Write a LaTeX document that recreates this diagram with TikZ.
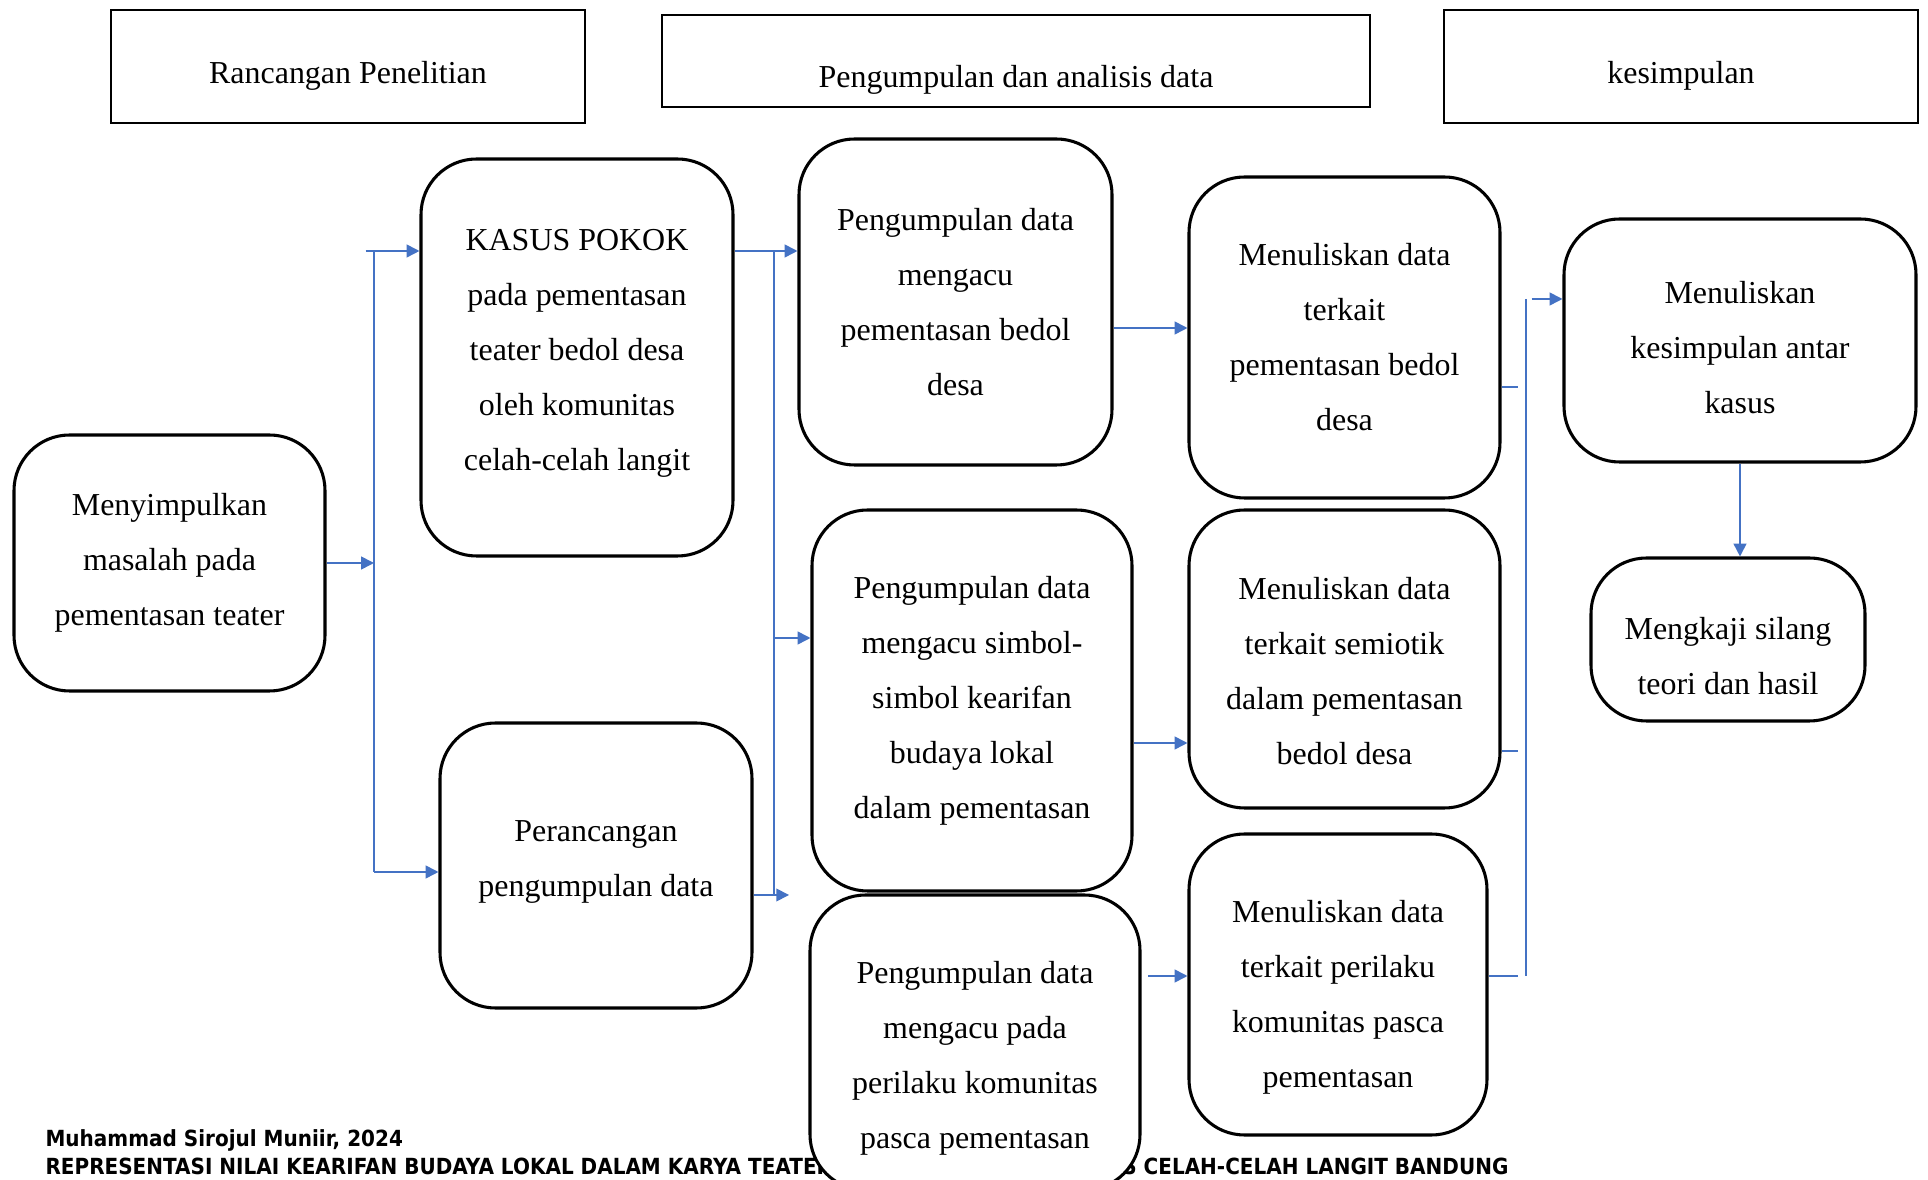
\documentclass[tikz,border=0pt]{standalone}
\usepackage{fontspec}
\setmainfont{Liberation Serif}
\newfontfamily\footfont[FakeStretch=0.9]{DejaVu Sans}
\usepackage{xcolor}
\usepackage{tikz}
\usetikzlibrary{arrows.meta}
\definecolor{alurbiru}{HTML}{4472C4}
\newcommand{\pxu}{0.36pt}
\newcommand{\atas}[1]{\rule{0pt}{#1}}
\newcommand{\bawah}[1]{\rule[-#1]{0pt}{0pt}}

\begin{document}
\begin{tikzpicture}[x=0.36pt, y=-0.36pt,
    rbox/.style={draw, line width=1.1pt, rounded corners=20pt, fill=white, align=center, inner sep=0pt,
      font=\fontsize{11.5}{19.8}\selectfont},
    hbox/.style={draw, line width=0.9pt, align=center, inner sep=0pt, font=\fontsize{11.5}{19.8}\selectfont},
    link/.style={alurbiru, line width=0.6pt},
    arr/.style={link, -{Triangle[length=4.6pt, width=4.6pt]}},
    foot/.style={inner sep=0pt, font=\footfont\bfseries\fontsize{8}{9}\selectfont}]
  \useasboundingbox (0,0) rectangle (1928,1180);

  \node[foot, anchor=base west] (pengarang) at (45,1146) {Muhammad Sirojul Muniir, 2024};
  \node[foot, anchor=base west] (judulkiri) at (45,1174) {REPRESENTASI NILAI KEARIFAN BUDAYA LOKAL DALAM KARYA TEATER};
  \node[foot, anchor=base east] (judulkanan) at (1509,1174) {KOMUNITAS CELAH-CELAH LANGIT BANDUNG};

  \node[hbox, minimum width=474*\pxu, minimum height=113*\pxu] (hrancang) at (348,66.5) {\smash{\raisebox{-6.2pt}{Rancangan Penelitian}}};
  \node[hbox, minimum width=708*\pxu, minimum height=92*\pxu] (hkumpul) at (1016,61) {\smash{\raisebox{-9.7pt}{Pengumpulan dan analisis data}}};
  \node[hbox, minimum width=474*\pxu, minimum height=113*\pxu] (hsimpul) at (1681,66.5) {\smash{\raisebox{-6.2pt}{kesimpulan}}};

  \node[rbox, minimum width=311*\pxu, minimum height=256*\pxu] (simpul) at (169.5,563) {Menyimpulkan\\masalah pada\\pementasan teater};
  \node[rbox, minimum width=312*\pxu, minimum height=397*\pxu] (kasus) at (577,357.5) {KASUS POKOK\\pada pementasan\\teater bedol desa\\oleh komunitas\\celah-celah langit\bawah{5.2pt}};
  \node[rbox, minimum width=312*\pxu, minimum height=285*\pxu] (rancang) at (596,865.5) {Perancangan\\pengumpulan data\bawah{5.3pt}};
  \node[rbox, minimum width=313*\pxu, minimum height=326*\pxu] (kumpulsatu) at (955.5,302) {Pengumpulan data\\mengacu\\pementasan bedol\\desa};
  \node[rbox, minimum width=320*\pxu, minimum height=381*\pxu] (kumpuldua) at (972,700.5) {Pengumpulan data\\mengacu simbol-\\simbol kearifan\\budaya lokal\\dalam pementasan};
  \node[rbox, minimum width=330*\pxu, minimum height=295*\pxu] (kumpultiga) at (975,1042.5) {\atas{19.2pt}Pengumpulan data\\mengacu pada\\perilaku komunitas\\pasca pementasan};
  \node[rbox, minimum width=311*\pxu, minimum height=321*\pxu] (tulissatu) at (1344.5,337.5) {Menuliskan data\\terkait\\pementasan bedol\\desa};
  \node[rbox, minimum width=311*\pxu, minimum height=298*\pxu] (tulisdua) at (1344.5,659) {\atas{16.6pt}Menuliskan data\\terkait semiotik\\dalam pementasan\\bedol desa};
  \node[rbox, minimum width=298*\pxu, minimum height=301*\pxu] (tulistiga) at (1338,984.5) {\atas{17pt}Menuliskan data\\terkait perilaku\\komunitas pasca\\pementasan};
  \node[rbox, minimum width=352*\pxu, minimum height=243*\pxu] (simpulan) at (1740,340.5) {\atas{13.4pt}Menuliskan\\kesimpulan antar\\kasus};
  \node[rbox, minimum width=274*\pxu, minimum height=163*\pxu] (kaji) at (1728,639.5) {\atas{19.9pt}Mengkaji silang\\teori dan hasil};

  \coordinate (cabangatas) at (374,251);
  \coordinate (cabangbawah) at (374,872);
  \coordinate (bagiatas) at (774,251);
  \coordinate (bagitengah) at (774,638);
  \coordinate (bagibawah) at (774,895);
  \coordinate (hasilsatu) at (1112,328);
  \coordinate (hasildua) at (1133,743);
  \coordinate (hasiltiga) at (1148,976);
  \coordinate (kumpulatas) at (1526,299);
  \coordinate (kumpulsatuy) at (1526,387);
  \coordinate (kumpulduay) at (1526,751);
  \coordinate (kumpulbawah) at (1526,976);

  \draw[arr] (simpul.east) -- (simpul.east -| cabangatas);
  \draw[link] (cabangatas) -- (cabangbawah);
  \draw[arr] ([xshift=-3]cabangatas) -- (cabangatas -| kasus.west);
  \draw[arr] (cabangbawah) -- (cabangbawah -| rancang.west);

  \draw[arr] (bagiatas -| kasus.east) -- (bagiatas -| kumpulsatu.west);
  \draw[link] (bagiatas) -- (bagibawah);
  \draw[arr] (bagitengah) -- (bagitengah -| kumpuldua.west);
  \draw[arr] (bagibawah -| rancang.east) -- ([xshift=-7]bagibawah -| kumpultiga.west);

  \draw[arr] (hasilsatu -| kumpulsatu.east) -- (hasilsatu -| tulissatu.west);
  \draw[arr] (hasildua -| kumpuldua.east) -- (hasildua -| tulisdua.west);
  \draw[arr] (hasiltiga) -- (hasiltiga -| tulistiga.west);

  \draw[link] (kumpulsatuy -| tulissatu.east) -- ([xshift=-3]kumpulsatuy);
  \draw[link] (kumpulduay -| tulisdua.east) -- ([xshift=-3]kumpulduay);
  \draw[link] (kumpulbawah -| tulistiga.east) -- ([xshift=-3]kumpulbawah);
  \draw[link] (kumpulatas) -- (kumpulbawah);
  \draw[arr] ([xshift=2]kumpulatas) -- (kumpulatas -| simpulan.west);

  \draw[arr] (simpulan.south) -- (simpulan.south |- kaji.north);
\end{tikzpicture}
\end{document}
